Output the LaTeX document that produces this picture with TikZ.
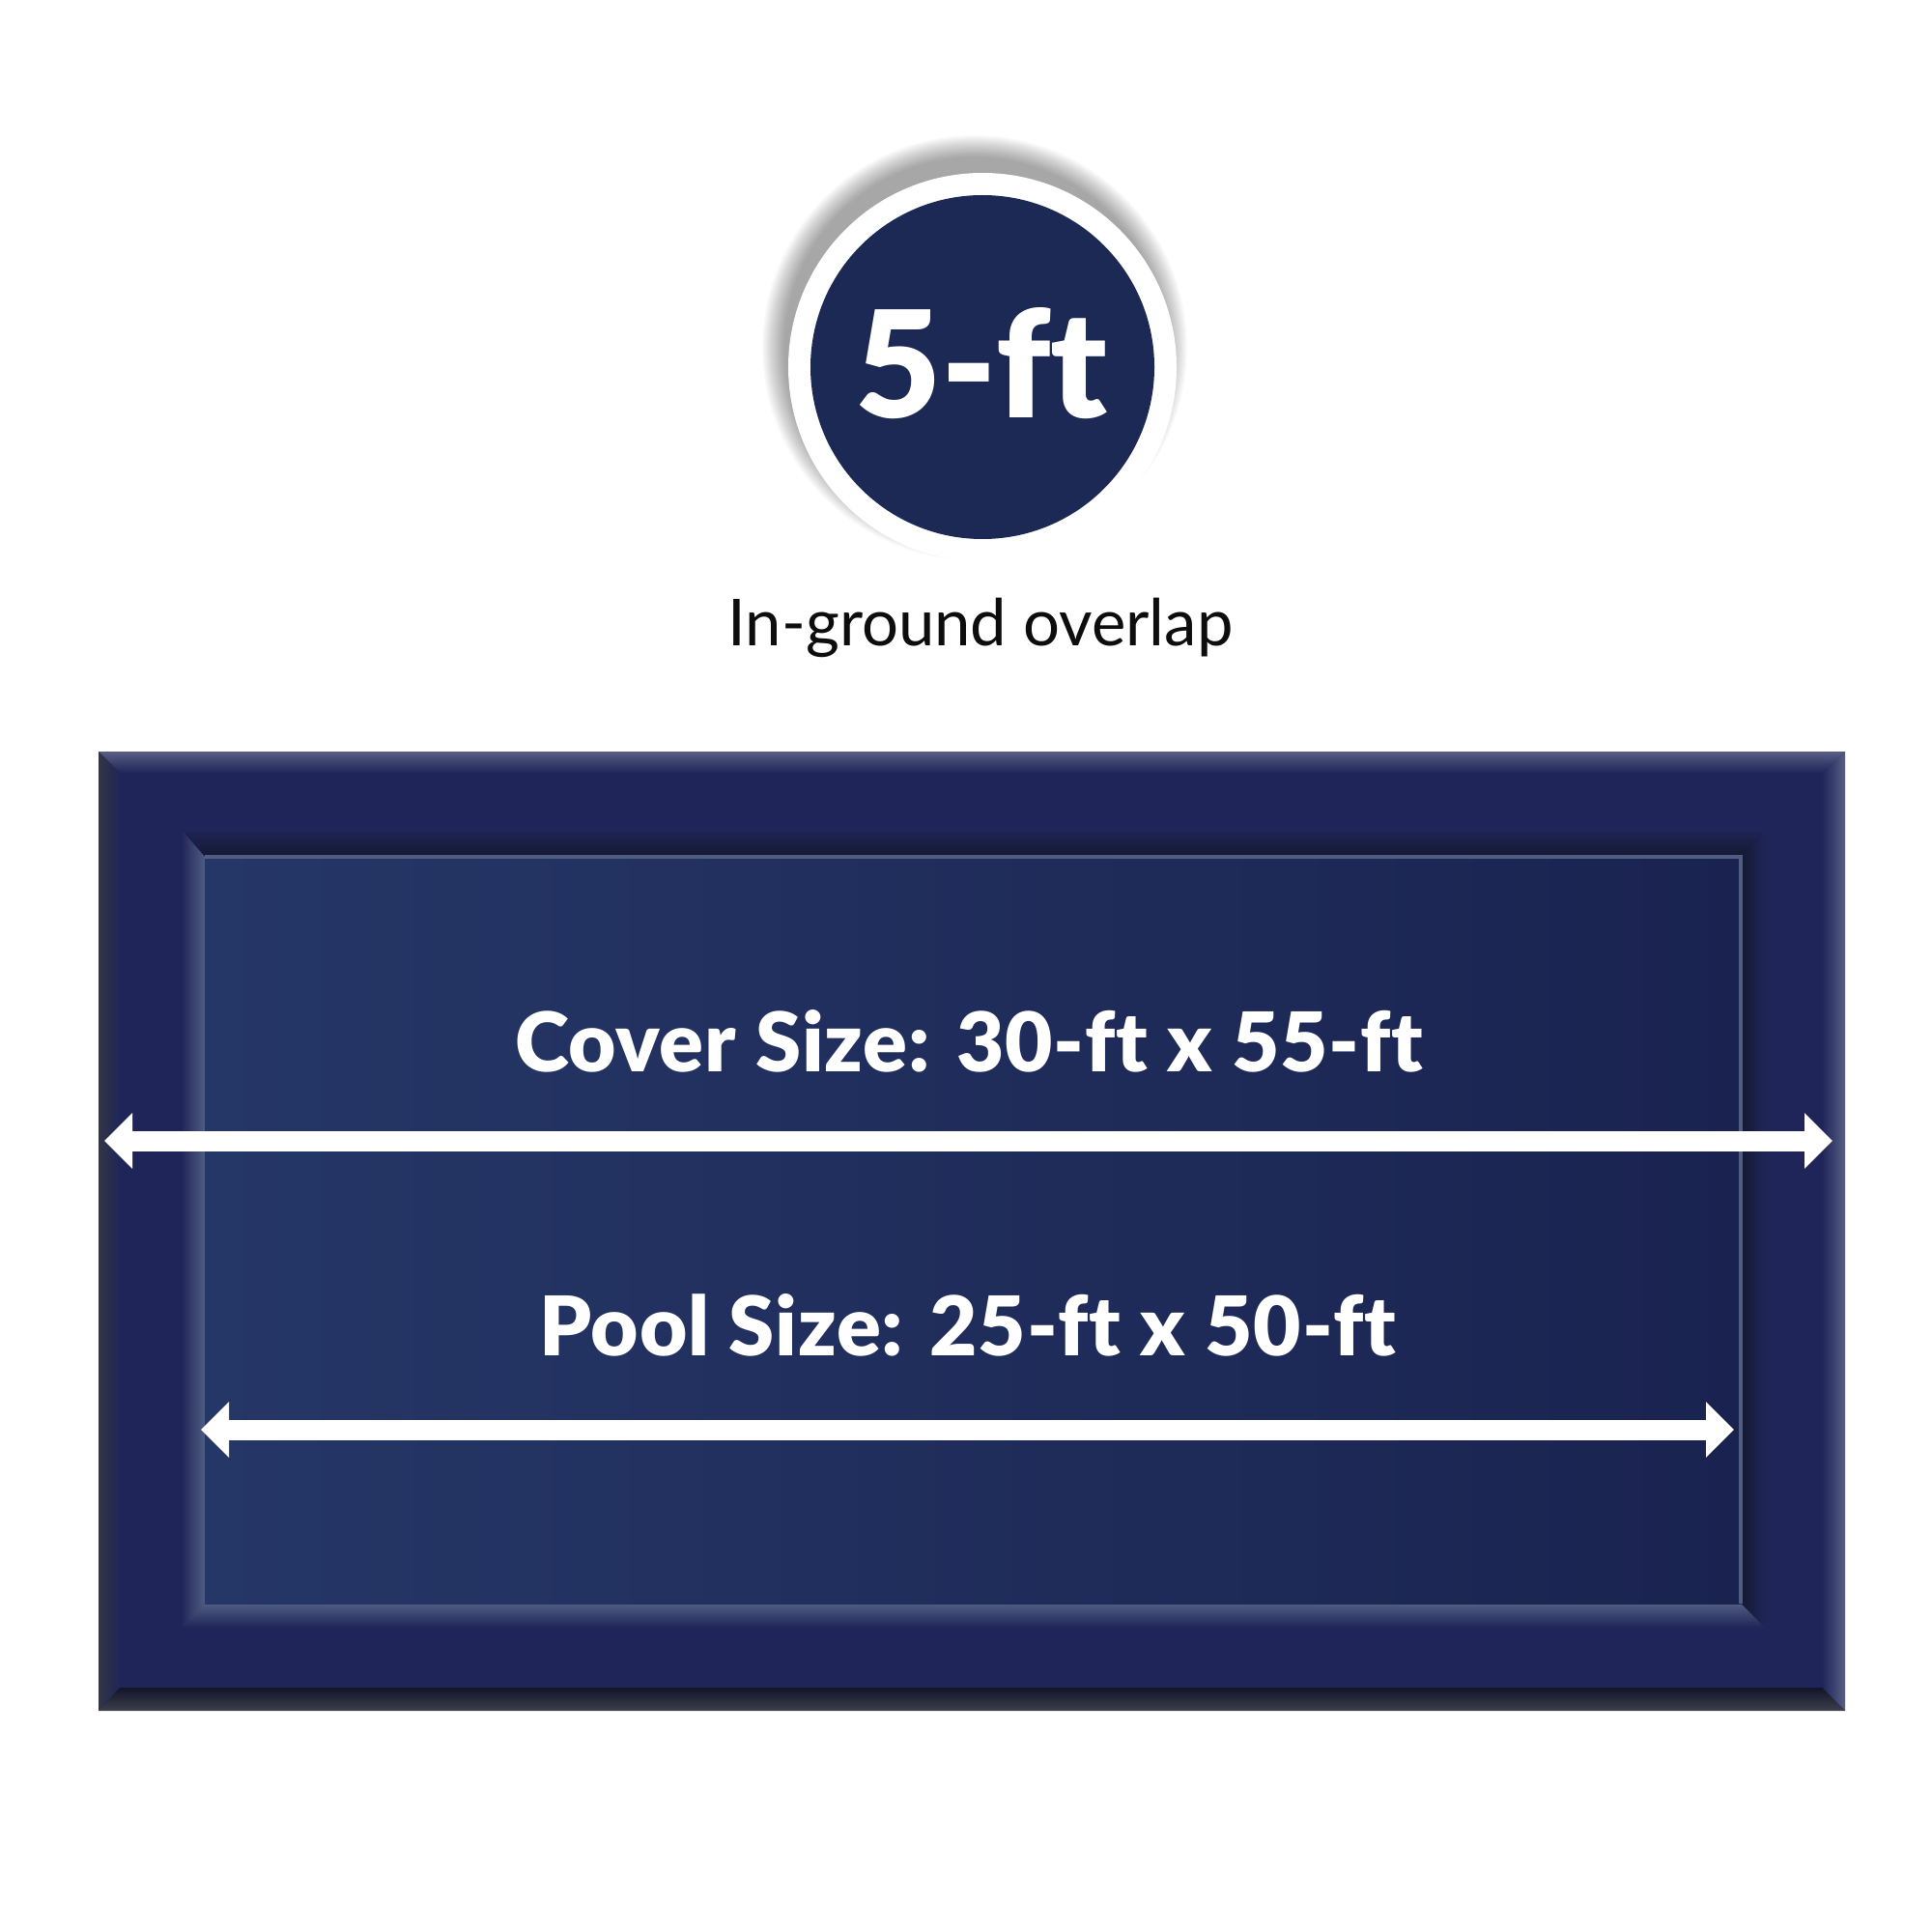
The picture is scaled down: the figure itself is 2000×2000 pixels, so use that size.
\documentclass[tikz,border=0pt]{standalone}
\usepackage{fontspec}
\setmainfont{Lato}
\newfontfamily\heavyfont{Lato Black}[Ligatures=NoCommon]
\newfontfamily\heavywide{Lato Black}[Ligatures=NoCommon, LetterSpace=0.9]
\usetikzlibrary{arrows.meta}
\definecolor{navy}{RGB}{27,41,84}
\definecolor{framecol}{RGB}{31,37,88}
\definecolor{panelL}{RGB}{37,55,103}
\definecolor{panelR}{RGB}{26,35,80}
\definecolor{bevlight}{RGB}{88,94,132}
\definecolor{bevdark}{RGB}{18,21,42}
\definecolor{grooveDark}{RGB}{20,25,48}
\definecolor{grooveLight}{RGB}{80,92,130}
\tikzset{
  dimarrow/.style={draw=white, line width=10.5pt,
    {Triangle[length=14.5pt,width=28pt]}-{Triangle[length=14.5pt,width=28pt]}},
  bigtext/.style={text=white, font=\heavywide\fontsize{42.6}{50}\selectfont, anchor=base, inner sep=0pt},
}
\begin{document}
\begin{tikzpicture}[x=0.5pt,y=-0.5pt]
\useasboundingbox (0,0) rectangle (2000,2000);
\fill[white] (0,0) rectangle (2000,2000);

% ---------- badge ----------
\foreach \k in {1,...,14}
  \fill[black, opacity=0.028] (1009,360) circle ({196+1.7*\k});
\node (badge) [circle, fill=white, minimum size=201pt, inner sep=0pt] at (1017,380) {};
\node (badgein) [circle, fill=navy, minimum size=178pt, inner sep=0pt] at (badge.center) {};
\node (five) [text=white, font=\heavyfont\fontsize{76.8}{80}\selectfont, anchor=base, inner sep=0pt] at (1016,433) {5-ft};
\node (overlap) [text=black!95, font=\fontsize{33.5}{38}\selectfont, anchor=base, inner sep=0pt] at (1015,668) {In-ground overlap};

% ---------- frame ----------
\coordinate (O1) at (102,778);  \coordinate (O2) at (1910,778);
\coordinate (O3) at (1910,1771); \coordinate (O4) at (102,1771);
\coordinate (B1) at (124,800);  \coordinate (B2) at (1886,800);
\coordinate (B3) at (1886,1747); \coordinate (B4) at (124,1747);
\coordinate (G1) at (187,858);  \coordinate (G2) at (1827,858);
\coordinate (G3) at (1827,1685); \coordinate (G4) at (187,1685);
\coordinate (P1) at (212,887);  \coordinate (P2) at (1802,887);
\coordinate (P3) at (1802,1660); \coordinate (P4) at (212,1660);

\fill[framecol] (O1) rectangle (O3);
% outer bevel
\shade[top color=bevlight, bottom color=framecol] (O1) -- (O2) -- (B2) -- (B1) -- cycle;
\shade[left color=bevdark!70!gray, right color=framecol] (O1) -- (B1) -- (B4) -- (O4) -- cycle;
\shade[left color=framecol, right color=bevlight] (O2) -- (O3) -- (B3) -- (B2) -- cycle;
\shade[top color=bevdark, bottom color=bevdark!60!gray] (O4) -- (B4) -- (B3) -- (O3) -- cycle;
% groove
\shade[top color=framecol, bottom color=grooveDark] (G1) -- (G2) -- (P2) -- (P1) -- cycle;
\shade[left color=framecol, right color=grooveLight] (G1) -- (P1) -- (P4) -- (G4) -- cycle;
\shade[left color=grooveDark, right color=framecol] (G2) -- (G3) -- (P3) -- (P2) -- cycle;
\shade[top color=grooveLight, bottom color=framecol] (P4) -- (P3) -- (G3) -- (G4) -- cycle;
% panel
\shade[left color=panelL, right color=panelR] (P1) rectangle (P3);
\draw[grooveLight, line width=2pt] (P1) -- (P2) -- (P3);

% ---------- labels and arrows ----------
\node (cover) [bigtext] at (1003,1109) {Cover Size: 30-ft x 55-ft};
\node (pool)  [bigtext] at (1002,1403) {Pool Size: 25-ft x 50-ft};
\coordinate (coverL) at (108,1181);
\coordinate (coverR) at (1897,1181);
\coordinate (poolL) at (208,1480);
\coordinate (poolR) at (1795,1480);
\draw[dimarrow] (coverL) -- (coverR);
\draw[dimarrow] (poolL) -- (poolR);
\end{tikzpicture}
\end{document}
